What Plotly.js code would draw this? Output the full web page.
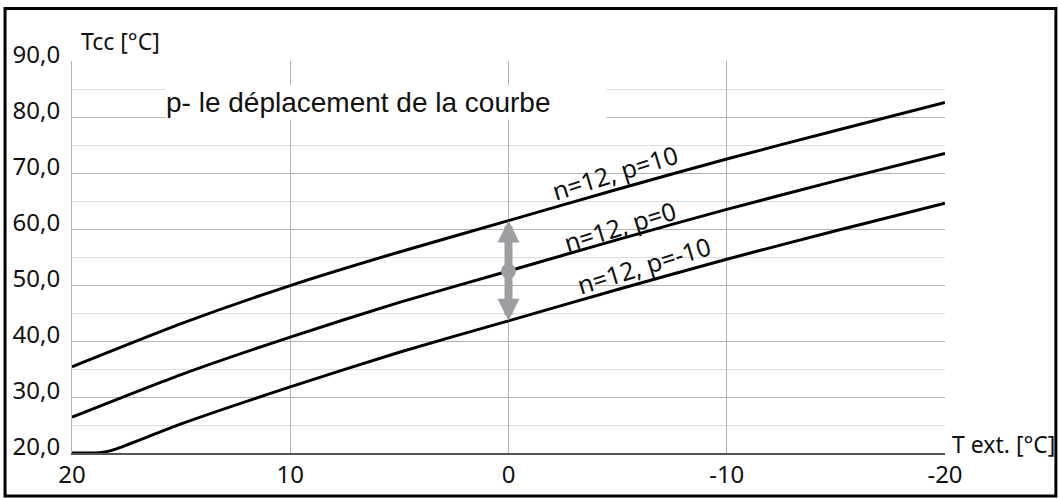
<!DOCTYPE html>
<html>
<head>
<meta charset="utf-8">
<script src="https://cdn.plot.ly/plotly-3.0.1.min.js"></script>
<style>
  html, body { margin: 0; padding: 0; background: #fff; }
  #chart { width: 1059px; height: 498px; }
</style>
</head>
<body>
<div id="chart"></div>
<script>
// outdoor temperature (x) and flow temperature for each curve
const tExt = [20, 15, 10, 5, 0, -5, -10, -15, -20];
const tccP10 = [35.4, 43.1, 49.9, 55.9, 61.5, 67.1, 72.5, 77.6, 82.6];
const tccP0 = [26.4, 34.0, 40.7, 46.9, 52.5, 58.1, 63.5, 68.6, 73.5];
const tExtM10 = [20, 19, 18.5, 18, 15, 10, 5, 0, -5, -10, -15, -20];
const tccPm10 = [20, 20, 20.2, 20.7, 25.2, 31.8, 38.0, 43.6, 49.2, 54.6, 59.7, 64.6];

const xTicks = [20, 10, 0, -10, -20];
const xTickText = ['20', '10', '0', '-10', '-20'];
const yTicks = [20, 30, 40, 50, 60, 70, 80, 90];
const yTickText = ['20,0', '30,0', '40,0', '50,0', '60,0', '70,0', '80,0', '90,0'];

const curveNames = ['n=12, p=10', 'n=12, p=0', 'n=12, p=-10'];
// where the rotated curve labels sit (x, y in data units)
const labelX = [-4.9, -5.1, -6.2];
const labelY = [70.1, 60.5, 53.5];

const gray = '#9c9ea1';
const font = 'Noto Sans, Open Sans, sans-serif';

function line(x, y) {
    return {
        x: x, y: y,
        mode: 'lines',
        type: 'scatter',
        line: { color: '#000', width: 3, shape: 'spline', smoothing: 0.6 },
        hoverinfo: 'skip'
    };
}

// shift arrow at T ext = 0
const i0 = tExt.indexOf(0);
const j0 = tExtM10.indexOf(0);

const dot = {
    x: [tExt[i0]], y: [tccP0[i0]],
    mode: 'markers', type: 'scatter',
    marker: { color: gray, size: 15 },
    hoverinfo: 'skip'
};

const data = [line(tExt, tccP10), line(tExt, tccP0), line(tExtM10, tccPm10), dot];

const annotations = [];
for (let k = 0; k < curveNames.length; k++) {
    annotations.push({
        x: labelX[k], y: labelY[k], xref: 'x', yref: 'y',
        text: curveNames[k], showarrow: false, textangle: -17,
        font: { family: font, size: 25, color: '#111' }
    });
}
// arrows up and down from the p=0 curve
annotations.push({
    x: tExt[i0], y: tccP10[i0], ax: tExt[i0], ay: tccP0[i0],
    xref: 'x', yref: 'y', axref: 'x', ayref: 'y', text: '',
    showarrow: true, arrowhead: 2, arrowsize: 0.55, arrowwidth: 8, arrowcolor: gray
});
annotations.push({
    x: tExtM10[j0], y: tccPm10[j0], ax: tExt[i0], ay: tccP0[i0],
    xref: 'x', yref: 'y', axref: 'x', ayref: 'y', text: '',
    showarrow: true, arrowhead: 2, arrowsize: 0.55, arrowwidth: 8, arrowcolor: gray
});
annotations.push({
    x: 0.1065, y: 0.893, xref: 'paper', yref: 'paper',
    xanchor: 'left', yanchor: 'middle', align: 'left',
    width: 440, height: 33, bgcolor: '#fff', borderpad: 0,
    text: 'p- le déplacement de la courbe', showarrow: false,
    font: { family: 'Liberation Sans, Arial, sans-serif', size: 28, color: '#111' }
});
annotations.push({
    x: 0.008, y: 1.05, xref: 'paper', yref: 'paper',
    xanchor: 'left', yanchor: 'middle',
    text: 'Tcc [°C]', showarrow: false,
    font: { family: font, size: 23, color: '#111' }
});
annotations.push({
    x: 1.006, y: 0.024, xref: 'paper', yref: 'paper',
    xanchor: 'left', yanchor: 'middle',
    text: 'T ext. [°C]', showarrow: false,
    font: { family: font, size: 23, color: '#111' }
});

const layout = {
    width: 1059, height: 498,
    margin: { l: 72, r: 114, t: 61, b: 45 },
    paper_bgcolor: '#fff', plot_bgcolor: '#fff',
    showlegend: false,
    font: { family: font, size: 24, color: '#111' },
    xaxis: {
        range: [20, -20], tickvals: xTicks, ticktext: xTickText,
        showgrid: true, gridcolor: '#b4b4b4', gridwidth: 1,
        zeroline: false, showline: true, linecolor: '#555', linewidth: 1.5,
        ticks: '', ticklabelstandoff: 0
    },
    yaxis: {
        range: [20, 90], tickvals: yTicks, ticktext: yTickText,
        showgrid: true, gridcolor: '#b4b4b4', gridwidth: 1,
        minor: { dtick: 5, tick0: 0, showgrid: true, gridcolor: '#dcdcdc', gridwidth: 1 },
        zeroline: false, showline: true, linecolor: '#b4b4b4', linewidth: 1,
        ticks: '', ticklabelshift: -6, ticklabelstandoff: 6
    },
    annotations: annotations,
    shapes: [{
        type: 'rect', xref: 'paper', yref: 'paper',
        x0: -0.0767, x1: 1.127, y0: -0.11, y1: 1.134,
        line: { color: '#000', width: 3 }
    }]
};

Plotly.newPlot('chart', data, layout, { staticPlot: true });
</script>
</body>
</html>
